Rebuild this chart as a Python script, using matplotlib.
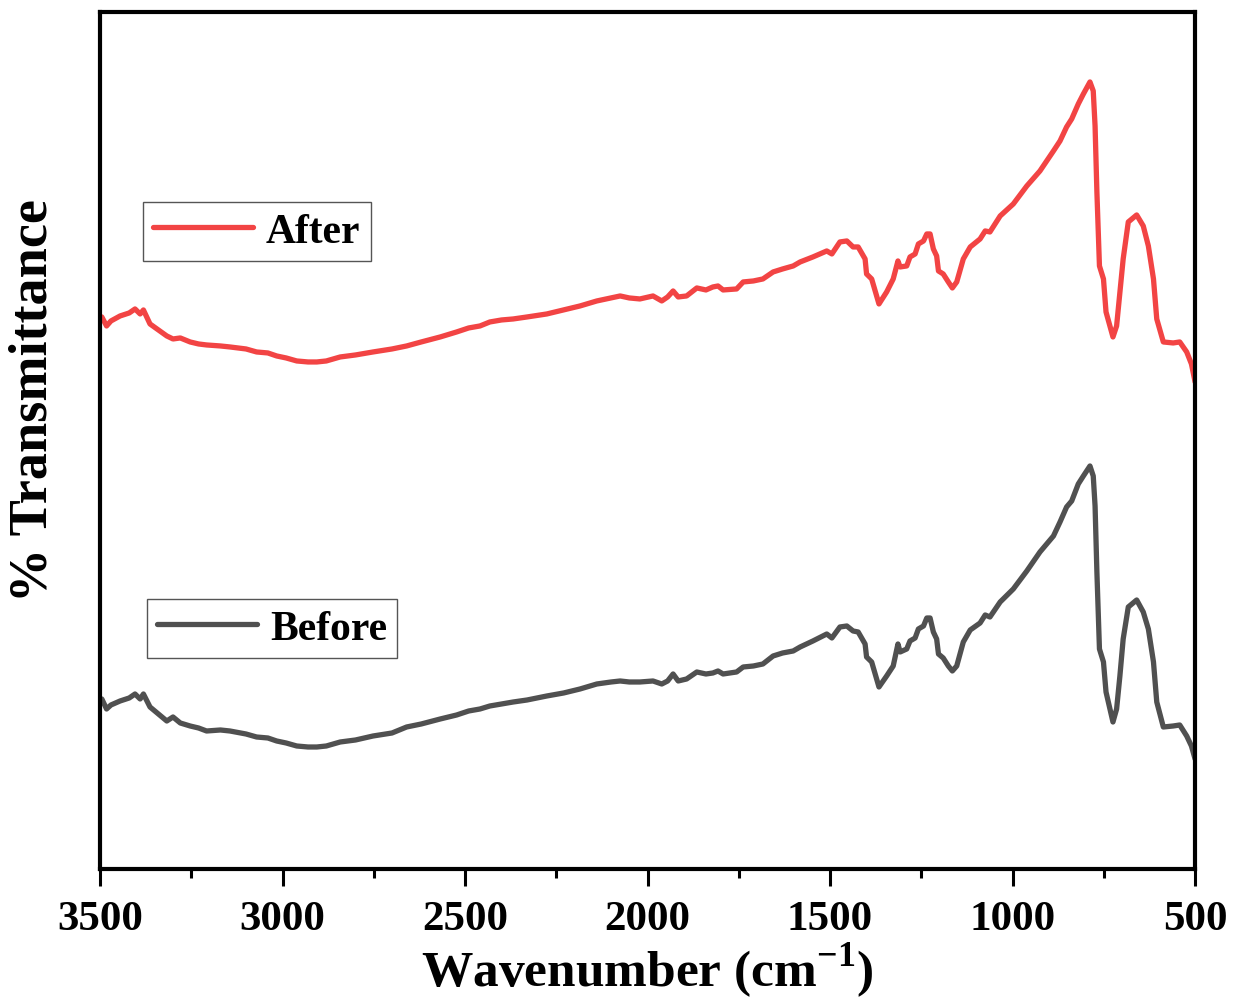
import numpy as np
import matplotlib.pyplot as plt
from matplotlib.lines import Line2D

# wavenumber grid (cm-1)
wavenumber = [3500, 3495, 3482, 3470, 3445, 3420, 3404, 3390, 3381, 3363, 3340, 3317, 3300, 3280,
              3253, 3230, 3208, 3170, 3144, 3100, 3071, 3040, 3016, 2990, 2961, 2930, 2906, 2880,
              2842, 2800, 2752, 2700, 2660, 2620, 2568, 2523, 2490, 2459, 2432, 2400, 2368, 2330,
              2276, 2230, 2185, 2139, 2100, 2075, 2050, 2021, 1985, 1961, 1945, 1930, 1916, 1893,
              1865, 1840, 1821, 1807, 1793, 1756, 1738, 1710, 1684, 1656, 1630, 1601, 1582, 1547,
              1509, 1495, 1473, 1454, 1437, 1423, 1404, 1400, 1386, 1366, 1345, 1327, 1314, 1308,
              1290, 1281, 1267, 1258, 1244, 1235, 1226, 1217, 1208, 1203, 1190, 1176, 1165, 1153,
              1135, 1116, 1089, 1075, 1062, 1034, 998, 961, 925, 888, 870, 852, 838, 820,
              806, 788, 779, 774, 769, 762, 751, 744, 725, 715, 706, 697, 683, 660,
              642, 628, 614, 605, 587, 560, 542, 523, 510, 500]

# % transmittance (arbitrary offset units)
after = [55.0, 55.2, 54.3, 54.8, 55.3, 55.6, 56.0, 55.5, 55.9, 54.5, 53.9, 53.3, 53.0, 53.1,
         52.7, 52.5, 52.4, 52.3, 52.2, 52.0, 51.7, 51.6, 51.3, 51.1, 50.8, 50.7, 50.7, 50.8,
         51.2, 51.4, 51.7, 52.0, 52.3, 52.7, 53.2, 53.7, 54.1, 54.3, 54.7, 54.9, 55.0, 55.2,
         55.5, 55.9, 56.3, 56.8, 57.1, 57.3, 57.1, 57.0, 57.3, 56.8, 57.2, 57.8, 57.2, 57.3,
         58.1, 57.9, 58.2, 58.3, 57.9, 58.0, 58.7, 58.8, 59.0, 59.7, 60.0, 60.3, 60.7, 61.2,
         61.8, 61.5, 62.7, 62.8, 62.2, 62.2, 61.0, 59.5, 59.0, 56.5, 57.7, 59.0, 60.8, 60.2,
         60.3, 61.2, 61.5, 62.5, 62.8, 63.5, 63.5, 62.0, 61.3, 59.8, 59.5, 58.7, 58.1, 58.7,
         61.0, 62.2, 63.0, 63.8, 63.7, 65.3, 66.5, 68.3, 69.8, 71.8, 72.8, 74.2, 75.0, 76.5,
         77.5, 78.7, 77.8, 74.3, 67.7, 60.3, 59.0, 55.7, 53.2, 54.3, 57.7, 61.0, 64.7, 65.4,
         64.3, 62.3, 59.0, 55.0, 52.7, 52.6, 52.7, 51.7, 50.5, 48.7]

before = [16.7, 17.0, 16.0, 16.4, 16.8, 17.1, 17.5, 17.0, 17.5, 16.2, 15.5, 14.8, 15.2, 14.6,
          14.3, 14.1, 13.8, 13.9, 13.8, 13.5, 13.2, 13.1, 12.8, 12.6, 12.3, 12.2, 12.2, 12.3,
          12.7, 12.9, 13.3, 13.6, 14.2, 14.5, 15.0, 15.4, 15.8, 16.0, 16.3, 16.5, 16.7, 16.9,
          17.3, 17.6, 18.0, 18.5, 18.7, 18.8, 18.7, 18.7, 18.8, 18.5, 18.8, 19.5, 18.8, 19.0,
          19.7, 19.5, 19.6, 19.8, 19.5, 19.7, 20.2, 20.3, 20.5, 21.3, 21.6, 21.8, 22.2, 22.8,
          23.5, 23.1, 24.2, 24.3, 23.8, 23.7, 22.5, 21.2, 20.7, 18.2, 19.3, 20.3, 22.5, 21.7,
          22.0, 22.8, 23.1, 24.0, 24.3, 25.1, 25.1, 23.7, 23.0, 21.5, 21.1, 20.3, 19.8, 20.3,
          22.7, 23.9, 24.6, 25.4, 25.2, 26.7, 28.0, 29.8, 31.7, 33.3, 34.7, 36.2, 36.8, 38.5,
          39.3, 40.3, 39.3, 36.3, 29.7, 22.0, 20.7, 17.7, 14.7, 16.0, 19.3, 23.0, 26.2, 26.9,
          25.7, 24.0, 20.7, 16.7, 14.2, 14.3, 14.4, 13.3, 12.3, 11.0]

xticks = [3500, 3000, 2500, 2000, 1500, 1000, 500]

red = '#F24444'
grey = '#505050'

plt.rcParams['font.family'] = 'Liberation Serif'
plt.rcParams['font.weight'] = 'bold'
plt.rcParams['mathtext.fontset'] = 'custom'
plt.rcParams['mathtext.rm'] = 'Liberation Serif:bold'
plt.rcParams['mathtext.bf'] = 'Liberation Serif:bold'

fig = plt.figure(figsize=(12.36, 10.03), dpi=100)
ax = fig.add_axes([0.0809, 0.1326, 0.886, 0.8545])

ax.plot(wavenumber, after, color=red, lw=3.8, solid_joinstyle='round', solid_capstyle='round')
ax.plot(wavenumber, before, color=grey, lw=3.8, solid_joinstyle='round', solid_capstyle='round')

ax.set_xlim(3500, 500)
ax.set_ylim(0, 85.7)
ax.set_xticks(xticks)
ax.set_xticklabels([str(t) for t in xticks])
ax.set_xticks(np.arange(3250, 500, -500), minor=True)
ax.set_yticks([])

for s in ax.spines.values():
    s.set_linewidth(3)
ax.tick_params(axis='x', which='major', direction='out', length=12, width=2.2,
               labelsize=31, pad=10)
ax.tick_params(axis='x', which='minor', direction='out', length=6.5, width=2.2)

ax.set_xlabel('Wavenumber (cm$^{\\mathbf{-1}}$)', fontsize=37, fontweight='bold', labelpad=2)
ax.set_ylabel('% Transmittance', fontsize=39, fontweight='bold')
ax.yaxis.set_label_coords(-0.038, 0.548)

#two separate legend boxes
leg_kw = dict(fontsize=30, frameon=True, fancybox=False, edgecolor='#555555',
              framealpha=1, handlelength=2.4, handletextpad=0.3, borderpad=0.25,
              borderaxespad=0, loc='upper left')
leg1 = ax.legend([Line2D([], [], color=red, lw=3.8, solid_capstyle='round')], ['After'],
                 bbox_to_anchor=(0.0393, 0.778), **leg_kw)
leg1.get_frame().set_linewidth(1)
ax.add_artist(leg1)
leg2 = ax.legend([Line2D([], [], color=grey, lw=3.8, solid_capstyle='round')], ['Before'],
                 bbox_to_anchor=(0.0429, 0.315), **leg_kw)
leg2.get_frame().set_linewidth(1)

fig.savefig('out.png', dpi=100)
